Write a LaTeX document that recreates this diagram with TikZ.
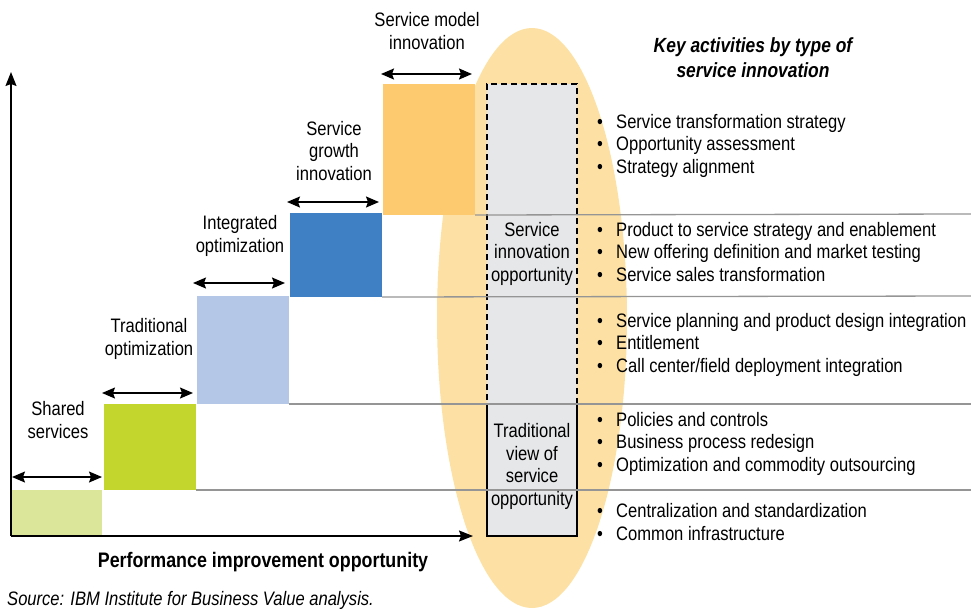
\documentclass[tikz,border=0pt]{standalone}
\usepackage{fontspec}
\setmainfont{Liberation Sans}[FakeStretch=0.85]
\usetikzlibrary{arrows.meta,shapes.geometric}
\definecolor{stA}{HTML}{DCE69B}
\definecolor{stB}{HTML}{C2D62E}
\definecolor{stC}{HTML}{B5C7E6}
\definecolor{stD}{HTML}{3F7FC4}
\definecolor{stE}{HTML}{FDCA70}
\definecolor{ellcol}{HTML}{FDE1A4}
\definecolor{boxcol}{HTML}{E6E7E9}
\definecolor{rulecol}{HTML}{959595}
\newcommand{\bulitem}{\makebox[19pt][l]{\textbullet}}
\tikzset{
  stepbox/.style={inner sep=0pt, outer sep=0pt, draw=none, anchor=north west},
  lbl/.style={font=\fontsize{19.5}{22.4}\selectfont, align=center, inner sep=0pt, anchor=base},
  bullets/.style={font=\fontsize{19.5}{22.4}\selectfont, align=left, inner sep=0pt, anchor=base west},
  dbl/.style={line width=1.5pt, {Stealth[length=13pt,width=11pt,inset=2pt]}-{Stealth[length=13pt,width=11pt,inset=2pt]}},
  axis/.style={line width=1.3pt, -{Stealth[length=14pt,width=11pt,inset=2pt]}},
  rule/.style={draw=rulecol, line width=1.3pt},
}
\begin{document}
\begin{tikzpicture}[x=1pt,y=-1pt]
\useasboundingbox (0,0) rectangle (971,608);
% ellipse
\node[ellipse, fill=ellcol, inner sep=0pt, minimum width=190pt, minimum height=580pt] (ell) at (532,318) {};
% step boxes
\node[stepbox, fill=stA, minimum width=91pt, minimum height=46pt] (st1) at (11,490) {};
\node[stepbox, fill=stB, minimum width=92pt, minimum height=86pt] (st2) at (104,404) {};
\node[stepbox, fill=stC, minimum width=92pt, minimum height=108pt] (st3) at (197,296) {};
\node[stepbox, fill=stD, minimum width=92pt, minimum height=84pt] (st4) at (290,213) {};
\node[stepbox, fill=stE, minimum width=92pt, minimum height=131pt] (st5) at (383,84) {};
% opportunity boxes
\node[stepbox, fill=boxcol, draw=black, dashed, dash pattern=on 6pt off 4pt, line width=1.1pt, minimum width=90pt, minimum height=320pt] (sio) at (487,84) {};
\node[stepbox, fill=boxcol, draw=black, line width=1.2pt, minimum width=90pt, minimum height=132pt] (tvo) at (487,404) {};
% rules
\coordinate (r1) at (971,490);
\coordinate (r2) at (971,404);
\coordinate (r3) at (971,296);
\coordinate (r4) at (971,214);
\draw[rule] (st2.south east) -- (r1);
\draw[rule] (st3.south east) -- (r2);
\draw[rule] (st4.south east) -- (r3);
\draw[rule] (st5.south east) -- (r4);
% axes
\coordinate (org) at (11,536);
\coordinate (xend) at (473,536);
\coordinate (yend) at (11,72);
\draw[axis] (org) -- (xend);
\draw[axis] (org) -- (yend);
% double arrows
\coordinate (a1l) at (12,477);  \coordinate (a1r) at (102,477);
\coordinate (a2l) at (102,393); \coordinate (a2r) at (193,393);
\coordinate (a3l) at (193,283); \coordinate (a3r) at (285,283);
\coordinate (a4l) at (287,202); \coordinate (a4r) at (379,202);
\coordinate (a5l) at (381,74);  \coordinate (a5r) at (472,74);
\draw[dbl] (a1l) -- (a1r);
\draw[dbl] (a2l) -- (a2r);
\draw[dbl] (a3l) -- (a3r);
\draw[dbl] (a4l) -- (a4r);
\draw[dbl] (a5l) -- (a5r);
% step labels (anchor = baseline of last line)
\node[lbl] (l1) at (58,438) {Shared\\services};
\node[lbl] (l2) at (149,355) {Traditional\\optimization};
\node[lbl] (l3) at (240,252) {Integrated\\optimization};
\node[lbl] (l4) at (334,180) {Service\\growth\\innovation};
\node[lbl] (l5) at (427,49) {Service model\\innovation};
\node[lbl] (l6) at (532,281) {Service\\innovation\\opportunity};
\node[lbl] (l7) at (532,505) {Traditional\\view of\\service\\opportunity};
% title
\node[lbl, font=\fontsize{20.5}{25}\selectfont\bfseries\itshape] (title) at (753,77) {Key activities by type of\\service innovation};
% bullets
\node[bullets] (b1) at (597,173) {\bulitem Service transformation strategy\\\bulitem Opportunity assessment\\\bulitem Strategy alignment};
\node[bullets] (b2) at (597,281) {\bulitem Product to service strategy and enablement\\\bulitem New offering definition and market testing\\\bulitem Service sales transformation};
\node[bullets] (b3) at (597,372) {\bulitem Service planning and product design integration\\\bulitem Entitlement\\\bulitem Call center/field deployment integration};
\node[bullets] (b4) at (597,471) {\bulitem Policies and controls\\\bulitem Business process redesign\\\bulitem Optimization and commodity outsourcing};
\node[bullets] (b5) at (597,540) {\bulitem Centralization and standardization\\\bulitem Common infrastructure};
% axis label and source
\node[lbl, font=\fontsize{21}{25}\selectfont\bfseries] (xlab) at (263,567) {Performance improvement opportunity};
\node[lbl, anchor=base west, font=\fontsize{19.5}{22.4}\selectfont\itshape] (src) at (7,605) {Source: IBM Institute for Business Value analysis.};
\end{tikzpicture}
\end{document}
